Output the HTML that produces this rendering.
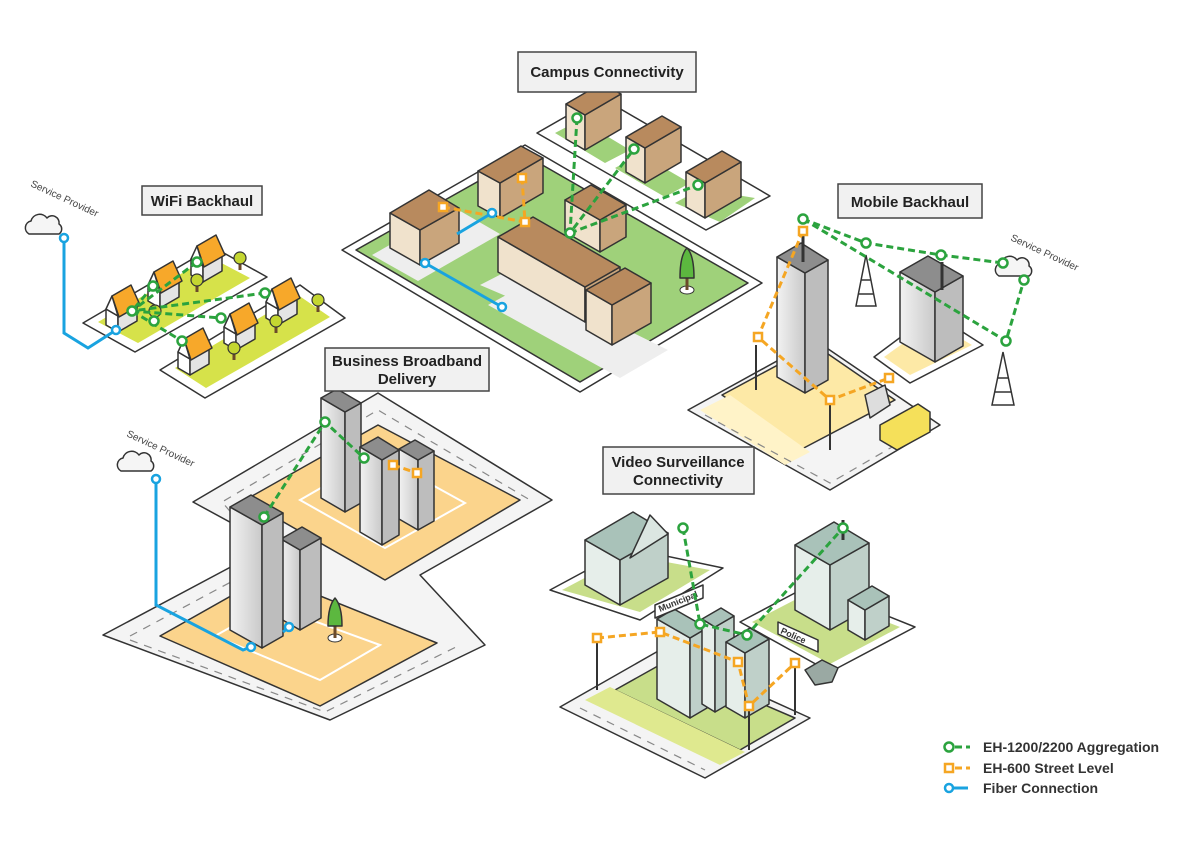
<!DOCTYPE html>
<html><head><meta charset="utf-8"><style>
html,body{margin:0;padding:0;background:#fff;}
svg{display:block;font-family:"Liberation Sans",sans-serif;}
.o{stroke:#333;stroke-width:1.5;stroke-linejoin:round;}
.lbl{fill:#f1f1f1;stroke:#444;stroke-width:1.5;}
.t{font-size:15px;font-weight:bold;fill:#222;text-anchor:middle;}
.g{fill:none;stroke:#2ba33e;stroke-width:3;stroke-dasharray:7 4;}
.y{fill:none;stroke:#f5a623;stroke-width:3;stroke-dasharray:7 4;}
.b{fill:none;stroke:#19a3e0;stroke-width:3;}
.gc{fill:#fff;stroke:#2ba33e;stroke-width:2.5;}
.yc{fill:#fff;stroke:#f5a623;stroke-width:2.5;}
.bc{fill:#fff;stroke:#19a3e0;stroke-width:2.5;}
.bl{fill:#f0e2cc;} .br{fill:#c9a57c;} .bt{fill:#b88a5e;}
.gl{fill:#e8e8e8;} .gr{fill:#bdbdbd;} .gt{fill:#8d8d8d;}
.vl{fill:#e6eeea;} .vr{fill:#bfd0c9;} .vt{fill:#a9c2b9;}
.road{fill:none;stroke:#888;stroke-width:1.2;stroke-dasharray:8 7;}
</style></head><body>
<svg width="1200" height="857" viewBox="0 0 1200 857" xmlns="http://www.w3.org/2000/svg">
<defs>
<g id="house">
<polygon class="o" fill="#fff" points="0,0 -12,-7 -12,-23 0,-16"/>
<polygon class="o" fill="#e4e4e4" points="0,0 19,-11 19,-27 0,-16"/>
<polygon class="o" fill="#fff" points="-12,-23 -6,-36 0,-16"/>
<polygon class="o" fill="#f7a82a" points="-6,-36 13,-47 22,-27 1,-15"/>
</g>
<g id="tree"><line x1="0" y1="0" x2="0" y2="-8" stroke="#6b4a2a" stroke-width="3"/><circle cx="0" cy="-12" r="6" fill="#c4d631" stroke="#333" stroke-width="1.2"/></g>
<g id="cloud"><path class="o" fill="#f5f5f5" d="M-16,6 a7,7 0 0 1 2,-13 a9,9 0 0 1 16,-3 a7,7 0 0 1 12,6 a6,6 0 0 1 0,10 z"/></g>
<linearGradient id="gg" x1="0" x2="1"><stop offset="0" stop-color="#f2f2f2"/><stop offset="1" stop-color="#c9c9c9"/></linearGradient>
</defs>

<!-- ============ WiFi ============ -->
<polygon class="o" fill="#fff" points="83,323 213,247 267,277 135,352"/>
<polygon fill="#d6e24a" points="98,322 210,257 250,278 138,343"/>
<polygon class="o" fill="#fff" points="160,370 300,285 345,318 205,398"/>
<polygon fill="#d6e24a" points="175,368 298,295 330,317 206,388"/>
<use href="#house" x="118" y="332"/><use href="#house" x="160" y="308"/><use href="#house" x="203" y="282"/>
<use href="#house" x="190" y="375"/><use href="#house" x="236" y="350"/><use href="#house" x="278" y="325"/>
<use href="#tree" x="155" y="323"/><use href="#tree" x="197" y="292"/><use href="#tree" x="240" y="270"/>
<use href="#tree" x="234" y="360"/><use href="#tree" x="276" y="333"/><use href="#tree" x="318" y="312"/>
<use href="#cloud" x="45" y="228"/>
<text x="30" y="186" font-size="10" fill="#444" transform="rotate(25 30 186)">Service Provider</text>
<polyline class="b" points="64,238 64,333 88,348 116,330"/>
<circle class="bc" cx="64" cy="238" r="4"/><circle class="bc" cx="116" cy="330" r="4"/>
<polyline class="g" points="197,262 132,311 265,293"/><polyline class="g" points="153,286 132,311 221,318"/><polyline class="g" points="132,311 182,341"/>
<circle class="gc" cx="197" cy="262" r="4.5"/><circle class="gc" cx="153" cy="286" r="4.5"/><circle class="gc" cx="132" cy="311" r="4.5"/><circle class="gc" cx="154" cy="321" r="4.5"/><circle class="gc" cx="265" cy="293" r="4.5"/><circle class="gc" cx="221" cy="318" r="4.5"/><circle class="gc" cx="182" cy="341" r="4.5"/>
<rect class="lbl" x="142" y="186" width="120" height="29"/><text class="t" x="202" y="206">WiFi Backhaul</text>

<!-- ============ Campus ============ -->
<polygon class="o" fill="#fff" points="537,133 600,97 770,196 706,230"/>
<polygon fill="#9fd17a" points="555,133 580,120 630,150 605,163"/>
<polygon fill="#9fd17a" points="615,168 640,154 690,183 665,197"/>
<polygon fill="#9fd17a" points="675,203 700,189 755,198 720,222"/>
<polygon class="o" fill="#fff" points="342,250 525,145 762,283 580,392"/>
<polygon class="o" fill="#9fd17a" points="356,250 525,155 748,283 580,382"/>
<polygon fill="#eee" points="372,255 455,208 500,234 418,281"/>
<polygon fill="#eee" points="488,305 530,282 668,350 620,378"/>
<polygon fill="#eee" points="480,285 525,262 560,280 520,302"/>
<polygon class="o bl" points="420,265 390,248 390,213 420,230"/><polygon class="o br" points="420,265 459,243 459,208 420,230"/><polygon class="o bt" points="420,230 390,213 429,190 459,208"/>
<polygon class="o bl" points="500,218 478,206 478,171 500,183"/><polygon class="o br" points="500,218 543,193 543,158 500,183"/><polygon class="o bt" points="500,183 478,171 521,146 543,158"/>
<polygon class="o bl" points="600,252 565,232 565,200 600,220"/><polygon class="o br" points="600,252 626,237 626,205 600,220"/><polygon class="o bt" points="600,220 565,200 591,185 626,205"/>
<polygon class="o bl" points="585,322 498,272 498,237 585,287"/><polygon class="o br" points="585,322 620,302 620,267 585,287"/><polygon class="o bt" points="585,287 498,237 533,217 620,267"/>
<polygon class="o bl" points="612,345 586,330 586,290 612,305"/><polygon class="o br" points="612,345 651,323 651,283 612,305"/><polygon class="o bt" points="612,305 586,290 625,268 651,283"/>
<polygon class="o bl" points="585,150 566,139 566,104 585,115"/><polygon class="o br" points="585,150 621,129 621,94 585,115"/><polygon class="o bt" points="585,115 566,104 602,83 621,94"/>
<polygon class="o bl" points="645,183 626,172 626,137 645,148"/><polygon class="o br" points="645,183 681,162 681,127 645,148"/><polygon class="o bt" points="645,148 626,137 662,116 681,127"/>
<polygon class="o bl" points="705,218 686,207 686,172 705,183"/><polygon class="o br" points="705,218 741,197 741,162 705,183"/><polygon class="o bt" points="705,183 686,172 722,151 741,162"/>
<ellipse cx="687" cy="290" rx="7" ry="4" fill="#fff" stroke="#333"/><line x1="687" y1="290" x2="687" y2="278" stroke="#6b4a2a" stroke-width="3"/>
<path class="o" fill="#5cb83f" d="M680,278 Q680,255 687,248 Q694,255 694,278 z"/>
<polyline class="g" points="577,118 570,233 634,149"/><polyline class="g" points="570,233 698,185"/>
<circle class="gc" cx="577" cy="118" r="4.5"/><circle class="gc" cx="634" cy="149" r="4.5"/><circle class="gc" cx="698" cy="185" r="4.5"/><circle class="gc" cx="570" cy="233" r="4.5"/>
<polyline class="y" points="443,207 525,222 522,178"/>
<rect class="yc" x="439" y="203" width="8" height="8"/><rect class="yc" x="518" y="174" width="8" height="8"/><rect class="yc" x="521" y="218" width="8" height="8"/>
<line class="b" x1="492" y1="213" x2="457" y2="234"/><line class="b" x1="425" y1="263" x2="502" y2="307"/>
<circle class="bc" cx="492" cy="213" r="4"/><circle class="bc" cx="425" cy="263" r="4"/><circle class="bc" cx="502" cy="307" r="4"/>
<rect class="lbl" x="518" y="52" width="178" height="40"/><text class="t" x="607" y="77">Campus Connectivity</text>

<!-- ============ Business ============ -->
<polygon class="o" fill="#f4f4f4" points="103,635 272,545 193,502 378,393 552,500 420,575 485,645 330,720"/>
<polygon class="o" fill="#fbd48c" points="245,500 378,425 520,500 385,580"/>
<polygon class="o" fill="#fbd48c" points="160,636 268,575 437,643 320,706"/>
<polygon fill="none" stroke="#fff" stroke-width="2" points="300,500 378,455 465,503 385,548"/>
<polygon fill="none" stroke="#fff" stroke-width="2" points="215,636 270,605 380,645 320,680"/>
<polyline class="road" points="130,636 272,560 222,502 378,410 530,500"/>
<polyline class="road" points="130,640 325,712 460,645"/>
<polygon class="o" fill="url(#gg)" points="300,630 281,619 281,539 300,550"/><polygon class="o gr" points="300,630 321,618 321,538 300,550"/><polygon class="o gt" points="300,550 281,539 302,527 321,538"/>
<polygon class="o" fill="url(#gg)" points="262,648 230,630 230,507 262,525"/><polygon class="o gr" points="262,648 283,636 283,513 262,525"/><polygon class="o gt" points="262,525 230,507 251,495 283,513"/>
<polygon class="o" fill="url(#gg)" points="345,512 321,498 321,398 345,412"/><polygon class="o gr" points="345,512 361,503 361,403 345,412"/><polygon class="o gt" points="345,412 321,398 337,389 361,403"/>
<polygon class="o" fill="url(#gg)" points="418,530 399,519 399,449 418,460"/><polygon class="o gr" points="418,530 434,521 434,451 418,460"/><polygon class="o gt" points="418,460 399,449 415,440 434,451"/>
<polygon class="o" fill="url(#gg)" points="382,545 360,532 360,447 382,460"/><polygon class="o gr" points="382,545 399,535 399,450 382,460"/><polygon class="o gt" points="382,460 360,447 378,437 399,450"/>
<ellipse cx="335" cy="638" rx="7" ry="4" fill="#fff" stroke="#333"/><line x1="335" y1="638" x2="335" y2="625" stroke="#6b4a2a" stroke-width="3"/>
<path class="o" fill="#5cb83f" d="M328,626 Q328,606 335,598 Q342,606 342,626 z"/>
<use href="#cloud" x="137" y="465"/>
<text x="126" y="436" font-size="10" fill="#444" transform="rotate(25 126 436)">Service Provider</text>
<polyline class="b" points="156,479 156,605 243,650 251,647"/><line class="b" x1="283" y1="632" x2="289" y2="627"/>
<circle class="bc" cx="156" cy="479" r="4"/><circle class="bc" cx="251" cy="647" r="4"/><circle class="bc" cx="289" cy="627" r="4"/>
<polyline class="g" points="264,517 325,422 364,458"/>
<circle class="gc" cx="264" cy="517" r="4.5"/><circle class="gc" cx="325" cy="422" r="4.5"/><circle class="gc" cx="364" cy="458" r="4.5"/>
<line class="y" x1="393" y1="465" x2="417" y2="473"/><rect class="yc" x="389" y="461" width="8" height="8"/><rect class="yc" x="413" y="469" width="8" height="8"/>
<rect class="lbl" x="325" y="348" width="164" height="43"/><text class="t" x="407" y="366">Business Broadband</text><text class="t" x="407" y="384">Delivery</text>

<!-- ============ Mobile ============ -->
<polygon class="o" fill="#f4f4f4" points="688,410 815,340 940,425 830,490"/>
<polygon class="o" fill="#fde9a6" points="722,395 815,345 895,400 800,450"/>
<polygon fill="#fff3c8" points="700,410 730,395 810,452 785,465"/>
<polyline class="road" points="705,415 830,483 930,425"/>
<polygon class="o" fill="#fff" points="874,357 933,313 983,345 910,383"/>
<polygon fill="#fde9a6" points="884,357 933,322 972,345 910,375"/>
<polygon class="o" fill="url(#gg)" points="935,362 900,342 900,272 935,292"/><polygon class="o gr" points="935,362 963,346 963,276 935,292"/><polygon class="o gt" points="935,292 900,272 928,256 963,276"/>
<polygon class="o" fill="url(#gg)" points="805,393 777,377 777,257 805,273"/><polygon class="o gr" points="805,393 828,380 828,260 805,273"/><polygon class="o gt" points="805,273 777,257 801,243 828,260"/>
<line x1="803" y1="262" x2="803" y2="228" stroke="#333" stroke-width="3"/>
<line x1="942" y1="290" x2="942" y2="262" stroke="#333" stroke-width="3"/>
<path d="M866,255 L856,306 L876,306 Z M861,280 L871,280 M858,294 L874,294" fill="#fff" stroke="#333" stroke-width="1.5"/>
<path d="M1003,352 L992,405 L1014,405 Z M998,378 L1008,378 M995,392 L1011,392" fill="#fff" stroke="#333" stroke-width="1.5"/>
<polygon class="o" fill="#f5e05a" points="880,425 918,404 930,412 930,432 897,450 880,440"/>
<polygon class="o" fill="#ddd" points="865,395 885,385 890,405 870,418"/>
<line x1="756" y1="345" x2="756" y2="390" stroke="#333" stroke-width="2"/>
<line x1="830" y1="405" x2="830" y2="450" stroke="#333" stroke-width="2"/>
<use href="#cloud" x="1015" y="270"/>
<text x="1010" y="240" font-size="10" fill="#444" transform="rotate(25 1010 240)">Service Provider</text>
<polyline class="g" points="803,219 866,243 941,255 1003,263"/><polyline class="g" points="803,219 1006,341 1024,280"/>
<circle class="gc" cx="803" cy="219" r="4.5"/><circle class="gc" cx="866" cy="243" r="4.5"/><circle class="gc" cx="941" cy="255" r="4.5"/><circle class="gc" cx="1003" cy="263" r="4.5"/><circle class="gc" cx="1024" cy="280" r="4.5"/><circle class="gc" cx="1006" cy="341" r="4.5"/>
<polyline class="y" points="803,231 758,337 830,400 889,378"/>
<rect class="yc" x="799" y="227" width="8" height="8"/><rect class="yc" x="754" y="333" width="8" height="8"/><rect class="yc" x="826" y="396" width="8" height="8"/><rect class="yc" x="885" y="374" width="8" height="8"/>
<rect class="lbl" x="838" y="184" width="144" height="34"/><text class="t" x="910" y="207">Mobile Backhaul</text>

<!-- ============ Video ============ -->
<polygon class="o" fill="#fff" points="550,590 628,548 723,568 640,620"/>
<polygon fill="#c8de8a" points="562,590 628,555 710,570 640,612"/>
<polygon class="o" fill="#fff" points="740,622 810,585 915,627 830,672"/>
<polygon fill="#c8de8a" points="752,622 810,592 900,627 830,664"/>
<polygon class="o" fill="#f4f4f4" points="560,707 660,650 810,718 705,778"/>
<polygon class="o" fill="#c8de8a" points="615,690 665,662 795,718 740,750"/>
<polygon fill="#dfe98f" points="585,700 610,687 745,752 720,765"/>
<polyline class="road" points="580,708 705,770"/>
<polygon class="o vl" points="620,605 585,585 585,540 620,560"/><polygon class="o vr" points="620,605 668,578 668,533 620,560"/><polygon class="o vt" points="620,560 585,540 633,512 668,533"/>
<polygon class="o" fill="#dbe6e1" points="630,558 650,515 668,534"/>
<polygon class="o vl" points="830,630 795,610 795,545 830,565"/><polygon class="o vr" points="830,630 869,608 869,543 830,565"/><polygon class="o vt" points="830,565 795,545 834,522 869,543"/>
<polygon class="o vl" points="865,640 848,630 848,600 865,610"/><polygon class="o vr" points="865,640 889,626 889,596 865,610"/><polygon class="o vt" points="865,610 848,600 872,586 889,596"/>
<line x1="843" y1="540" x2="843" y2="520" stroke="#333" stroke-width="3"/>
<polygon class="o vl" points="690,718 657,699 657,619 690,638"/><polygon class="o vr" points="690,718 707,708 707,628 690,638"/><polygon class="o vt" points="690,638 657,619 674,609 707,628"/>
<polygon class="o vl" points="715,712 702,704 702,619 715,627"/><polygon class="o vr" points="715,712 734,701 734,616 715,627"/><polygon class="o vt" points="715,627 702,619 721,608 734,616"/>
<polygon class="o vl" points="745,718 726,707 726,642 745,653"/><polygon class="o vr" points="745,718 769,704 769,639 745,653"/><polygon class="o vt" points="745,653 726,642 750,628 769,639"/>
<polygon class="o" fill="#fff" points="655,605 703,585 703,598 655,618"/><text x="660" y="612" font-size="9" font-weight="bold" fill="#333" transform="rotate(-22 660 612)">Municipal</text>
<polygon class="o" fill="#fff" points="778,622 818,640 818,652 778,634"/><text x="780" y="633" font-size="9" font-weight="bold" fill="#333" transform="rotate(24 780 633)">Police</text>
<polygon class="o" fill="#9aa9a3" points="805,670 822,660 838,668 832,682 815,685"/>
<line x1="597" y1="642" x2="597" y2="690" stroke="#333" stroke-width="2"/>
<line x1="749" y1="710" x2="749" y2="750" stroke="#333" stroke-width="2"/>
<line x1="795" y1="667" x2="795" y2="715" stroke="#333" stroke-width="2"/>
<polyline class="g" points="683,528 700,624 747,635 843,528"/>
<circle class="gc" cx="683" cy="528" r="4.5"/><circle class="gc" cx="700" cy="624" r="4.5"/><circle class="gc" cx="747" cy="635" r="4.5"/><circle class="gc" cx="843" cy="528" r="4.5"/>
<polyline class="y" points="597,638 660,632 738,662 749,706 795,663"/>
<rect class="yc" x="593" y="634" width="8" height="8"/><rect class="yc" x="656" y="628" width="8" height="8"/><rect class="yc" x="734" y="658" width="8" height="8"/><rect class="yc" x="745" y="702" width="8" height="8"/><rect class="yc" x="791" y="659" width="8" height="8"/>
<rect class="lbl" x="603" y="447" width="151" height="47"/><text class="t" x="678" y="467">Video Surveillance</text><text class="t" x="678" y="485">Connectivity</text>

<!-- ============ Legend ============ -->
<line class="g" x1="955" y1="747" x2="970" y2="747"/><circle class="gc" cx="949" cy="747" r="4.5"/>
<line class="y" x1="955" y1="768" x2="970" y2="768"/><rect class="yc" x="945" y="764" width="8" height="8"/>
<line class="b" x1="953" y1="788" x2="968" y2="788"/><circle class="bc" cx="949" cy="788" r="4"/>
<text x="983" y="752" font-size="14" font-weight="bold" fill="#333">EH-1200/2200 Aggregation</text>
<text x="983" y="773" font-size="14" font-weight="bold" fill="#333">EH-600 Street Level</text>
<text x="983" y="793" font-size="14" font-weight="bold" fill="#333">Fiber Connection</text>
</svg>
</body></html>
